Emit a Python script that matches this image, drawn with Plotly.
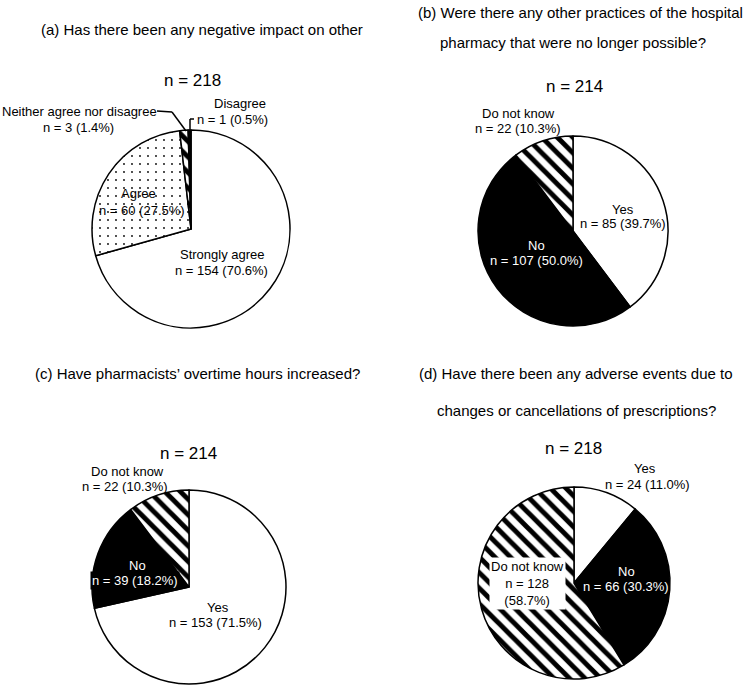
import plotly.graph_objects as go

W, H = 750, 687

# ---- data ----
titles = {
    "a": ["(a) Has there been any negative impact on other"],
    "b": ["(b) Were there any other practices of the hospital", "pharmacy that were no longer possible?"],
    "c": ["(c) Have pharmacists’ overtime hours increased?"],
    "d": ["(d) Have there been any adverse events due to", "changes or cancellations of prescriptions?"],
}
labels_a = ["Strongly agree", "Agree", "Neither agree nor disagree", "Disagree"]
counts_a = [154, 60, 3, 1]
labels_b = ["Yes", "No", "Do not know"]
counts_b = [85, 107, 22]
labels_c = ["Yes", "No", "Do not know"]
counts_c = [153, 39, 22]
labels_d = ["Yes", "No", "Do not know"]
counts_d = [24, 66, 128]


def px(x, y):
    return x / W, 1 - y / H


def lab(n, tot):
    return f"n = {n} ({100 * n / tot:.1f}%)"


FONT = "Liberation Sans, Arial, sans-serif"
fig = go.Figure()

# panel geometry (centre x, centre y, radius) in pixels
geo = {"a": (191, 229, 99), "b": (573, 231, 95), "c": (189, 587, 97), "d": (574, 583, 96)}

styles = {
    "a": dict(colors=["white", "white", "white", "black"], shape=["", ".", "\\", ""]),
    "b": dict(colors=["white", "black", "white"], shape=["", "", "\\"]),
    "c": dict(colors=["white", "black", "white"], shape=["", "", "\\"]),
    "d": dict(colors=["white", "black", "white"], shape=["", "", "\\"]),
}
data = {"a": (labels_a, counts_a), "b": (labels_b, counts_b), "c": (labels_c, counts_c), "d": (labels_d, counts_d)}

for k, (labs, vals) in data.items():
    cx, cy, r = geo[k]
    x0, y1 = px(cx - r, cy - r)
    x1, y0 = px(cx + r, cy + r)
    st = styles[k]
    sizes = [8 if s == "." else 11 for s in st["shape"]]
    sol = [0.04 if s == "." else 0.45 for s in st["shape"]]
    fig.add_trace(go.Pie(
        labels=labs, values=vals, sort=False, direction="clockwise", rotation=0,
        textinfo="none", hoverinfo="label+value", showlegend=False,
        domain=dict(x=[x0, x1], y=[y0, y1]),
        marker=dict(colors=st["colors"], line=dict(color="black", width=1.5),
                    pattern=dict(shape=st["shape"], fgcolor="black", bgcolor="white",
                                 fgopacity=1, size=sizes, solidity=sol, fillmode="overlay")),
    ))

ann = []


def text(t, x, y, size=13, color="black", bg=None):
    xx, yy = px(x, y)
    d = dict(text=t, x=xx, y=yy, xref="paper", yref="paper", showarrow=False,
             xanchor="center", yanchor="middle", font=dict(family=FONT, size=size, color=color))
    if bg:
        d.update(bgcolor=bg, borderpad=1)
    ann.append(d)


# titles
text(titles["a"][0], 202, 30, 15)
text(titles["b"][0], 580, 12, 15)
text(titles["b"][1], 573, 42, 15)
text(titles["c"][0], 197, 373, 15)
text(titles["d"][0], 576, 373, 15)
text(titles["d"][1], 576, 410, 15)

# n headers
text(f"n = {sum(counts_a)}", 192, 81, 17)
text(f"n = {sum(counts_b)}", 574, 86, 17)
text(f"n = {sum(counts_c)}", 188, 453, 17)
text(f"n = {sum(counts_d)}", 573, 448, 17)

# (a) labels
ta = sum(counts_a)
text(labels_a[3], 240, 104)
text(lab(counts_a[3], ta), 232, 119)
text(labels_a[2], 79, 112)
text(lab(counts_a[2], ta), 78, 127)
text(labels_a[1], 138, 193)
text(lab(counts_a[1], ta), 142, 210)
text(labels_a[0], 222, 254)
text(lab(counts_a[0], ta), 221, 270)

# (b) labels
tb = sum(counts_b)
text(labels_b[2], 518, 113)
text(lab(counts_b[2], tb), 518, 128)
text(labels_b[0], 623, 209)
text(lab(counts_b[0], tb), 623, 224)
text(labels_b[1], 536, 246, color="white")
text(lab(counts_b[1], tb), 536, 260, color="white")

# (c) labels
tc = sum(counts_c)
text(labels_c[2], 127, 471)
text(lab(counts_c[2], tc), 125, 486)
text(labels_c[1], 137, 565, color="white")
text(lab(counts_c[1], tc), 135, 580, color="white", bg="black")
text(labels_c[0], 218, 607)
text(lab(counts_c[0], tc), 216, 622)

# (d) labels
td = sum(counts_d)
text(labels_d[0], 645, 468)
text(lab(counts_d[0], td), 647, 484)
text(labels_d[1], 626, 571, color="white")
text(lab(counts_d[1], td), 626, 586, color="white")
text(labels_d[2] + "<br>" + f"n = {counts_d[2]}" + "<br>" + f"({100 * counts_d[2] / td:.1f}%)",
     527, 583, bg="white")

# leader lines for (a)
shapes = []


def seg(xa, ya, xb, yb):
    p0 = px(xa, ya)
    p1 = px(xb, yb)
    shapes.append(dict(type="line", xref="paper", yref="paper", x0=p0[0], y0=p0[1], x1=p1[0], y1=p1[1],
                       line=dict(color="black", width=1.5)))


seg(157, 111, 172, 112)
seg(172, 112, 186, 131)
seg(194, 119, 190, 119)
seg(190, 119, 190, 131)

fig.update_layout(width=W, height=H, margin=dict(l=0, r=0, t=0, b=0),
                  paper_bgcolor="white", plot_bgcolor="white",
                  annotations=ann, shapes=shapes, font=dict(family=FONT))
fig.write_html("out.html")
